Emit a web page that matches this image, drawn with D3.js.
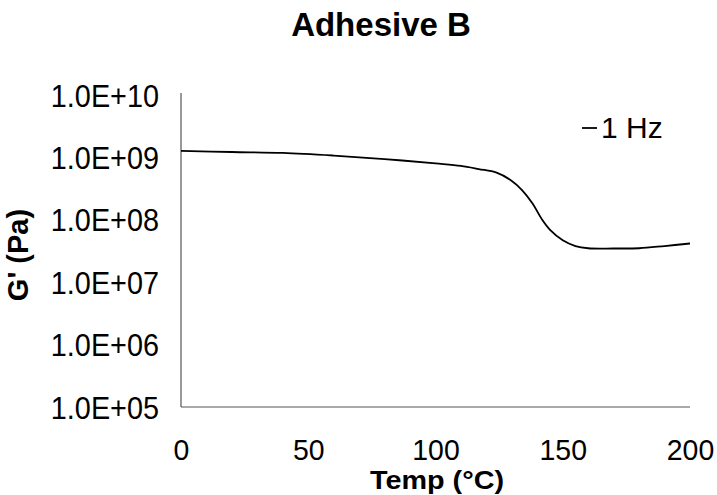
<!DOCTYPE html>
<html>
<head>
<meta charset="utf-8">
<script src="https://cdn.jsdelivr.net/npm/d3@7"></script>
<style>
  html, body { margin: 0; padding: 0; background: #fff; }
  svg text { font-family: "Liberation Sans", Arial, sans-serif; fill: #000; }
</style>
</head>
<body>
<svg id="chart" width="717" height="495"></svg>
<script>
// Storage modulus G' of Adhesive B vs temperature at 1 Hz
const temps = [0, 20, 40, 60, 80, 100, 110, 117, 124, 130, 134, 138, 142, 145, 150, 155, 160, 170, 180, 190, 200];
const storageModulus = [1.27e9, 1.22e9, 1.18e9, 1.07e9, 9.4e8, 8.0e8, 7.3e8, 6.5e8, 5.7e8, 4.2e8, 3.0e8, 1.86e8, 9.9e7, 6.9e7, 4.7e7, 3.8e7, 3.5e7, 3.47e7, 3.5e7, 3.8e7, 4.17e7];
const xTicks = [0, 50, 100, 150, 200];
const yTicks = [1e5, 1e6, 1e7, 1e8, 1e9, 1e10];
const seriesName = "1 Hz";

const svg = d3.select("#chart");
const x = d3.scaleLinear().domain([0, 200]).range([181, 690]);
const y = d3.scaleLog().domain([1e5, 1e10]).range([407, 95]);

const fmtSci = v => {
  const e = Math.round(Math.log10(v));
  return "1.0E+" + String(e).padStart(2, "0");
};

// axes
const yAxis = d3.axisLeft(y).tickValues(yTicks).tickSize(0).tickPadding(0).tickFormat(fmtSci);
const xAxis = d3.axisBottom(x).tickValues(xTicks).tickSize(0).tickPadding(0).tickFormat(d3.format("d"));

const gy = svg.append("g").attr("transform", "translate(181,0)").call(yAxis);
gy.select(".domain").attr("stroke", "#555").attr("stroke-width", 1.2).attr("d", "M0,93V407");
// slightly narrowed glyphs, right edge near x=158
gy.selectAll(".tick text")
  .attr("font-size", 31).attr("dy", "0.36em").attr("x", 0)
  .attr("font-family", "Liberation Sans, Arial, sans-serif")
  .attr("transform", "translate(-22,0) scale(0.93,1)");

const gx = svg.append("g").attr("transform", "translate(0,407)").call(xAxis);
gx.select(".domain").attr("stroke", "#555").attr("stroke-width", 1.2).attr("d", "M181,0H690");
gx.selectAll(".tick text")
  .attr("font-size", 29).attr("dy", "0").attr("y", 53)
  .attr("font-family", "Liberation Sans, Arial, sans-serif")
  .attr("transform", "scale(0.98,1)");

// curve
const line = d3.line()
  .x((d, i) => x(temps[i]))
  .y(d => y(d))
  .curve(d3.curveCatmullRom.alpha(0.5));

svg.append("path")
  .datum(storageModulus)
  .attr("fill", "none")
  .attr("stroke", "#000")
  .attr("stroke-width", 1.8)
  .attr("d", line);

// title
svg.append("text")
  .attr("x", 381).attr("y", 36)
  .attr("text-anchor", "middle")
  .attr("font-size", 33).attr("font-weight", "bold")
  .text("Adhesive B");

// axis titles
svg.append("text")
  .attr("x", 437).attr("y", 489)
  .attr("text-anchor", "middle")
  .attr("font-size", 25).attr("font-weight", "bold")
  .attr("textLength", 134).attr("lengthAdjust", "spacingAndGlyphs")
  .text("Temp (°C)");

svg.append("text")
  .attr("transform", "translate(28,255) rotate(-90)")
  .attr("text-anchor", "middle")
  .attr("font-size", 29).attr("font-weight", "bold")
  .text("G' (Pa)");

// legend
const leg = svg.append("g").attr("transform", "translate(582,128)");
leg.append("line").attr("x1", 0).attr("x2", 15).attr("y1", 0).attr("y2", 0)
  .attr("stroke", "#000").attr("stroke-width", 1.8);
leg.append("text").attr("x", 19).attr("y", 10)
  .attr("font-size", 30).text(seriesName);
</script>
</body>
</html>
